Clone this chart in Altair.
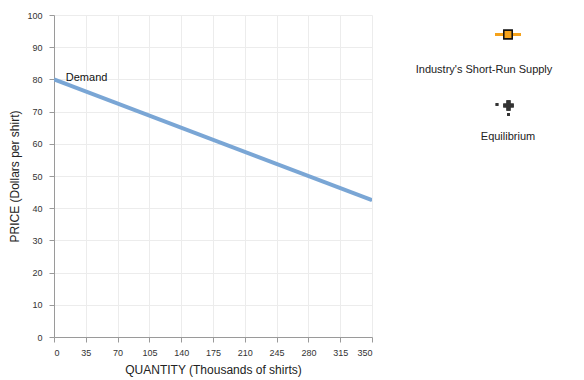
import altair as alt
import pandas as pd

demand_q = [0, 350]
demand_p = [80, 42.5]
x_ticks = [0, 35, 70, 105, 140, 175, 210, 245, 280, 315, 350]
y_ticks = [0, 10, 20, 30, 40, 50, 60, 70, 80, 90, 100]
legend_labels = ["Industry's Short-Run Supply", "Equilibrium"]

FONT = "Liberation Sans"

df = pd.DataFrame({"q": demand_q, "p": demand_p})

xscale = alt.Scale(domain=[0, 350], nice=False, zero=False)
yscale = alt.Scale(domain=[0, 100], nice=False, zero=False)

xaxis = alt.Axis(values=x_ticks, title="QUANTITY (Thousands of shirts)",
                 grid=True, gridColor="#ececec", domainColor="#9a9a9a",
                 tickColor="#9a9a9a", tickSize=5, labelFontSize=9,
                 labelColor="#333", labelFont=FONT, titleFont=FONT,
                 labelOverlap=False,
                 titleFontSize=12, titleFontWeight="normal", titleColor="#222",
                 labelPadding=6, titlePadding=7)
yaxis = alt.Axis(values=y_ticks, title="PRICE (Dollars per shirt)",
                 grid=True, gridColor="#ececec", domainColor="#9a9a9a",
                 tickColor="#9a9a9a", tickSize=5, labelFontSize=9,
                 labelColor="#333", labelFont=FONT, titleFont=FONT,
                 labelOverlap=False,
                 titleFontSize=12, titleFontWeight="normal", titleColor="#222",
                 labelPadding=7, titlePadding=5)

demand = alt.Chart(df).mark_line(color="#7aa6d5", strokeWidth=4, clip=True).encode(
    x=alt.X("q:Q", scale=xscale, axis=xaxis),
    y=alt.Y("p:Q", scale=yscale, axis=yaxis),
)

label_df = pd.DataFrame({"q": [13], "p": [80], "t": ["Demand"]})
demand_label = alt.Chart(label_df).mark_text(
    align="left", baseline="middle", font=FONT, fontSize=11, color="#111", dy=-1
).encode(x=alt.X("q:Q", scale=xscale, axis=xaxis),
         y=alt.Y("p:Q", scale=yscale, axis=yaxis), text="t:N")

# legend decorations (outside plot area)
sup_line = alt.Chart(df).mark_rule(color="#f5a21b", strokeWidth=3).encode(
    x=alt.value(441), x2=alt.value(467), y=alt.value(19.5))
sup_pt = alt.Chart(df).mark_point(shape="square", filled=True, fill="#f5a21b",
                                  stroke="#111", strokeWidth=1.5, size=70, opacity=1).encode(
    x=alt.value(454), y=alt.value(19.5))
sup_txt = alt.Chart(pd.DataFrame({"t": [legend_labels[0]]})).mark_text(
    font=FONT, fontSize=11, color="#222", align="center", baseline="middle").encode(
    x=alt.value(430), y=alt.value(55), text="t:N")

eq_cross = alt.Chart(df).mark_point(shape="cross", filled=True, color="#333",
                                    size=110, opacity=1).encode(
    x=alt.value(454.5), y=alt.value(90.5))
eq_dot1 = alt.Chart(df).mark_point(shape="square", filled=True, color="#333",
                                   size=8, opacity=1).encode(
    x=alt.value(443), y=alt.value(89.5))
eq_dot2 = alt.Chart(df).mark_point(shape="square", filled=True, color="#333",
                                   size=8, opacity=1).encode(
    x=alt.value(454.5), y=alt.value(99.5))
eq_txt = alt.Chart(pd.DataFrame({"t": [legend_labels[1]]})).mark_text(
    font=FONT, fontSize=11, color="#222", align="center", baseline="middle").encode(
    x=alt.value(454), y=alt.value(122), text="t:N")

chart = alt.layer(demand, demand_label, sup_line, sup_pt, sup_txt,
                  eq_cross, eq_dot1, eq_dot2, eq_txt).properties(
    width=318, height=322,
    autosize=alt.AutoSizeParams(type="none"),
    padding={"left": 46, "top": 7, "right": 200, "bottom": 43},
).configure(font=FONT).configure_view(stroke=None).configure_axis(labelOverlap=False)

chart.save("out.html", embed_options={"renderer": "svg", "actions": False})
